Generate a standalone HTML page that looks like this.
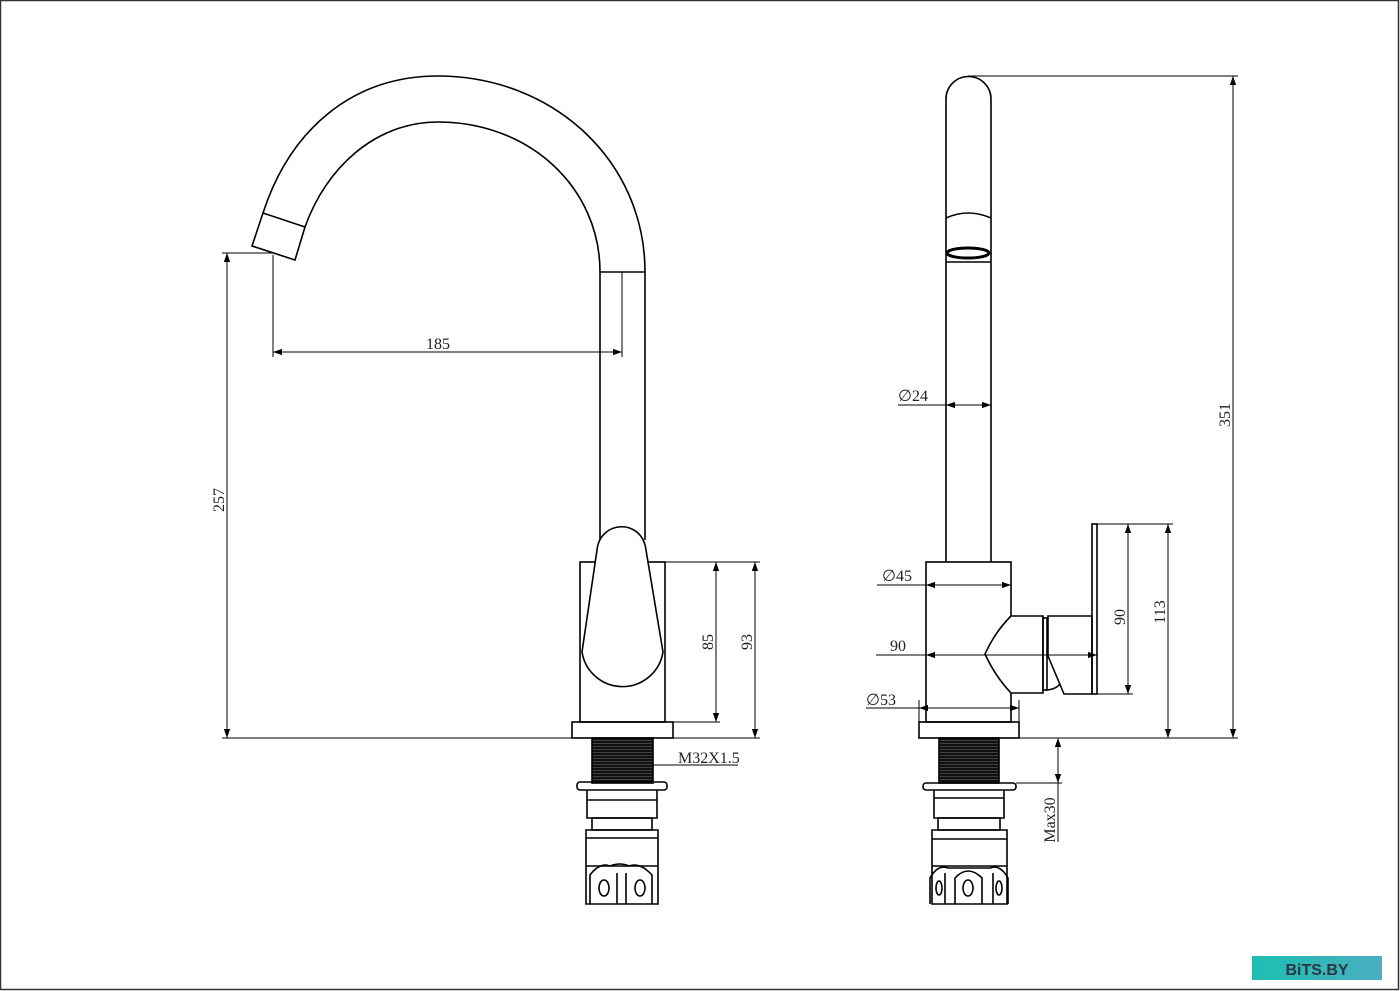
<!DOCTYPE html>
<html><head><meta charset="utf-8"><style>
html,body{margin:0;padding:0;background:#fff}
svg{display:block}
text{font-family:"Liberation Serif",serif;font-size:16px;fill:#222}
</style></head><body>
<svg width="1400" height="991" viewBox="0 0 1400 991" xmlns="http://www.w3.org/2000/svg">
<defs>
<marker id="a" viewBox="0 0 10 10" refX="10" refY="5" markerWidth="18" markerHeight="9" markerUnits="userSpaceOnUse" orient="auto-start-reverse"><path d="M0,1.5 L10,5 L0,8.5 Z" fill="#000"/></marker>
<linearGradient id="g" x1="0" x2="1"><stop offset="0" stop-color="#1cbfb2"/><stop offset="1" stop-color="#4aaebf"/></linearGradient>
<pattern id="th" width="4" height="3" patternUnits="userSpaceOnUse"><rect width="4" height="3" fill="#111"/><rect y="2" width="4" height="0.7" fill="#555"/></pattern>
</defs>
<rect x="0.5" y="0.5" width="1398" height="989" fill="none" stroke="#333" stroke-width="1.5"/>

<g fill="none" stroke="#000" stroke-width="1.6">
<path d="M645,272 C645,160 552,76 438,76 C352,76 290,130 263,213"/>
<path d="M600,272 C600,188 530,122 438,122 C375,122 326,168 305,227"/>
<path d="M263,213 L305,227 L295,260 L252,246 Z"/>
<line x1="600" y1="272" x2="645" y2="272"/>
<line x1="600" y1="272" x2="600" y2="540"/>
<line x1="645" y1="272" x2="645" y2="540"/>
<rect x="580" y="562" width="85" height="160"/>
<path d="M597,550 C600,520 642,518 646,550 L663,652 A41,41 0 0 1 582,652 Z" fill="#fff"/>
<rect x="572" y="722" width="101" height="16"/>
<rect x="592" y="738" width="61" height="45" fill="url(#th)" stroke="#000"/>
<rect x="577" y="782" width="90" height="8" rx="3"/>
<path d="M587,790 L587,818 L657,818 L657,790"/>
<line x1="587" y1="800" x2="657" y2="800"/>
<rect x="592" y="818" width="60" height="12"/>
<path d="M586,830 L586,904 L658,904 L658,830 Z"/>
<line x1="586" y1="838" x2="658" y2="838"/>
<line x1="586" y1="866" x2="658" y2="866"/>
<path d="M590,904 L590,875 Q600,862 610,866 Q620,862 629,866 Q640,862 652,875 L652,904"/>
<line x1="617" y1="873" x2="617" y2="904"/><line x1="626" y1="873" x2="626" y2="904"/>
<ellipse cx="604" cy="888" rx="5" ry="8"/><ellipse cx="640" cy="888" rx="5" ry="8"/>

<path d="M946,562 L946,99 A22.5,22.5 0 0 1 991,99 L991,562"/>
<path d="M946,218 Q968,208 991,218"/>
<ellipse cx="968" cy="253" rx="21" ry="5" stroke-width="3"/>
<line x1="946" y1="262" x2="991" y2="262"/>
<rect x="926" y="562" width="85" height="160"/>
<path d="M1011,616 L1043,616 L1043,693 L1011,693 Q995,676 985,654 Q995,632 1011,616 Z" fill="#fff"/>
<rect x="1043" y="618" width="4" height="72"/>
<path d="M1048,616 L1092,616 L1092,694 L1064,694 L1048,656 Z"/>
<path d="M1045,690 Q1055,690 1060,684"/>
<rect x="1092" y="524" width="5" height="170"/>
<rect x="919" y="722" width="100" height="16"/>
<rect x="939" y="738" width="60" height="45" fill="url(#th)" stroke="#000"/>
<rect x="923" y="783" width="93" height="7" rx="3"/>
<path d="M934,790 L934,818 L1004,818 L1004,790"/>
<line x1="934" y1="798" x2="1004" y2="798"/>
<rect x="938" y="818" width="62" height="12"/>
<path d="M932,830 L932,904 L1007,904 L1007,830 Z"/>
<line x1="932" y1="839" x2="1007" y2="839"/>
<line x1="932" y1="866" x2="1007" y2="866"/>
<path d="M930,904 L930,878 Q938,864 948,868 L990,868 Q1000,864 1008,878 L1008,904"/>
<line x1="945" y1="873" x2="945" y2="904"/><line x1="993" y1="873" x2="993" y2="904"/>
<path d="M955,904 L955,878 Q968,864 982,878 L982,904"/>
<ellipse cx="968" cy="888" rx="5" ry="8"/><ellipse cx="939" cy="888" rx="3" ry="7"/><ellipse cx="999" cy="888" rx="3" ry="7"/>
</g>

<g fill="none" stroke="#000" stroke-width="1">
<line x1="222" y1="738" x2="760" y2="738"/>
<line x1="222" y1="253" x2="273" y2="253"/>
<line x1="227" y1="253" x2="227" y2="738" marker-start="url(#a)" marker-end="url(#a)"/>
<line x1="273" y1="255" x2="273" y2="357"/>
<line x1="622" y1="272" x2="622" y2="357"/>
<line x1="273" y1="352" x2="622" y2="352" marker-start="url(#a)" marker-end="url(#a)"/>
<line x1="665" y1="562" x2="760" y2="562"/>
<line x1="673" y1="722" x2="720" y2="722"/>
<line x1="716" y1="562" x2="716" y2="722" marker-start="url(#a)" marker-end="url(#a)"/>
<line x1="755" y1="562" x2="755" y2="738" marker-start="url(#a)" marker-end="url(#a)"/>
<line x1="653" y1="765" x2="738" y2="765"/>
<line x1="968" y1="76" x2="1238" y2="76"/>
<line x1="1011" y1="738" x2="1238" y2="738"/>
<line x1="1233" y1="76" x2="1233" y2="738" marker-start="url(#a)" marker-end="url(#a)"/>
<line x1="898" y1="405" x2="946" y2="405"/>
<line x1="946" y1="405" x2="991" y2="405" marker-start="url(#a)" marker-end="url(#a)"/>
<line x1="877" y1="585" x2="926" y2="585"/>
<line x1="926" y1="585" x2="1011" y2="585" marker-start="url(#a)" marker-end="url(#a)"/>
<line x1="876" y1="655" x2="926" y2="655"/>
<line x1="926" y1="655" x2="1097" y2="655" marker-start="url(#a)" marker-end="url(#a)"/>
<line x1="866" y1="708" x2="919" y2="708"/>
<line x1="919" y1="708" x2="1019" y2="708" marker-start="url(#a)" marker-end="url(#a)"/>
<line x1="919" y1="700" x2="919" y2="722"/><line x1="1019" y1="700" x2="1019" y2="722"/>
<line x1="1097" y1="524" x2="1173" y2="524"/>
<line x1="1097" y1="694" x2="1133" y2="694"/>
<line x1="1128" y1="524" x2="1128" y2="694" marker-start="url(#a)" marker-end="url(#a)"/>
<line x1="1168" y1="524" x2="1168" y2="738" marker-start="url(#a)" marker-end="url(#a)"/>
<line x1="1016" y1="783" x2="1062" y2="783"/>
<line x1="1058" y1="738" x2="1058" y2="783" marker-start="url(#a)" marker-end="url(#a)"/>
<line x1="1058" y1="783" x2="1058" y2="842"/>
</g>

<text x="438" y="349" text-anchor="middle">185</text>
<text transform="translate(224,500) rotate(-90)" text-anchor="middle">257</text>
<text transform="translate(713,642) rotate(-90)" text-anchor="middle">85</text>
<text transform="translate(752,642) rotate(-90)" text-anchor="middle">93</text>
<text x="678" y="763">M32X1.5</text>
<text transform="translate(1230,415) rotate(-90)" text-anchor="middle">351</text>
<text x="898" y="401">∅24</text>
<text x="882" y="581">∅45</text>
<text x="890" y="651">90</text>
<text x="866" y="705">∅53</text>
<text transform="translate(1125,617) rotate(-90)" text-anchor="middle">90</text>
<text transform="translate(1165,612) rotate(-90)" text-anchor="middle">113</text>
<text transform="translate(1055,820) rotate(-90)" text-anchor="middle">Max30</text>

<rect x="1252" y="956" width="130" height="24" fill="url(#g)"/>
<text x="1317" y="975" text-anchor="middle" style="font-family:'Liberation Sans',sans-serif;font-weight:bold;font-size:16px;fill:#2a3640">BiTS.BY</text>
</svg>
</body></html>
